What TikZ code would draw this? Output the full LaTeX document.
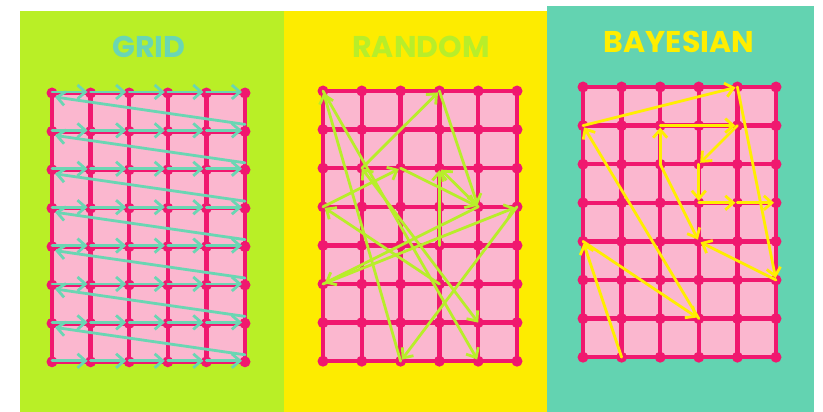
\documentclass[tikz,border=0pt]{standalone}
\usepackage{fontspec}
\setmainfont{Poppins}
\usetikzlibrary{arrows.meta}
\definecolor{limebg}{HTML}{B9EF26}
\definecolor{yellowbg}{HTML}{FDEC00}
\definecolor{tealbg}{HTML}{63D3B1}
\definecolor{cellpink}{HTML}{FBB7CF}
\definecolor{gridmag}{HTML}{F0186F}
\definecolor{tealarr}{HTML}{6AD6B3}
\definecolor{limearr}{HTML}{B8EE2A}
\definecolor{yellarr}{HTML}{FFEE00}
\tikzset{
  gridline/.style={draw=gridmag, line width=4.5pt},
  arr/.style={line width=2.8pt, -{Straight Barb[length=8pt,width=14pt]}, shorten >=2pt, line cap=round},
  twoarr/.style={line width=2.8pt, {Straight Barb[length=8pt,width=14pt]}-{Straight Barb[length=8pt,width=14pt]}, line cap=round},
  title/.style={font=\fontsize{30}{30}\selectfont\bfseries, inner sep=0pt}
}
\newcommand\mkgrid[5]{%
  \foreach \i in {0,...,5}{\foreach \j in {0,...,7}{%
    \coordinate (#1-\i-\j) at ({#2+\i*#4},{#3+\j*#5});}}%
  \fill[cellpink] (#1-0-0) rectangle (#1-5-7);
  \foreach \i in {0,...,5}{\draw[gridline] (#1-\i-0) -- (#1-\i-7);}
  \foreach \j in {0,...,7}{\draw[gridline] (#1-0-\j) -- (#1-5-\j);}
  \foreach \i in {0,...,5}{\foreach \j in {0,...,7}{%
    \fill[gridmag] (#1-\i-\j) circle[radius=5.5pt];}}%
}
\begin{document}
\begin{tikzpicture}[x=1pt,y=-1pt]
\useasboundingbox (0,0) rectangle (823,412);
\fill[white] (0,0) rectangle (823,412);
% panels
\fill[limebg] (20,11) rectangle (284,412);
\fill[yellowbg] (284,11) rectangle (548,412);
\fill[tealbg] (547,6) rectangle (814,412);
% titles
\node[title, text=tealarr] (t1) at (149,47) {GRID};
\node[title, text=limearr] (t2) at (421,47) {RANDOM};
\node[title, text=yellarr] (t3) at (679,42) {BAYESIAN};
% grids
\mkgrid{g}{52}{93}{38.6}{38.4}
\mkgrid{r}{323}{91}{38.8}{38.6}
\mkgrid{b}{583}{87}{38.6}{38.6}
% GRID arrows
\foreach \j in {0,...,7}{%
  \foreach \i [evaluate=\i as \n using int(\i+1)] in {0,...,4}{%
    \draw[arr, draw=tealarr, shorten >=3pt] ([yshift=1pt]g-\i-\j) -- ([yshift=1pt]g-\n-\j);}}
\foreach \j [evaluate=\j as \k using int(\j+1)] in {0,...,6}{%
  \draw[arr, draw=tealarr, shorten >=0pt] ([yshift=7pt]g-5-\k) -- ([xshift=3pt,yshift=-4pt]g-0-\j);}
% RANDOM arrows
\begin{scope}[every path/.style={draw=limearr}]
\draw[arr] (r-1-2) -- (r-3-0);
\draw[arr] (r-3-0) -- (r-4-3);
\draw[arr] (r-0-3) -- (r-2-2);
\draw[arr] (r-2-2) -- (r-4-3);
\draw[arr] (r-4-3) -- (r-3-2);
\draw[arr] (r-3-4) -- (r-3-2);
\draw[arr] (r-4-3) -- (r-0-5);
\draw[arr] (r-0-5) -- (r-5-3);
\draw[arr] (r-5-3) -- (r-2-7);
\draw[arr] (r-2-7) -- (r-0-0);
\draw[arr] (r-0-0) -- (r-4-7);
\draw[twoarr] (r-1-2) -- (r-4-6);
\draw[arr] (r-3-5) -- (r-0-3);
\end{scope}
% BAYESIAN arrows
\begin{scope}[every path/.style={draw=yellarr}]
\draw[arr] (b-1-7) -- (b-0-4);
\draw[arr] (b-0-4) -- (b-3-6);
\draw[arr] (b-3-6) -- (b-0-1);
\draw[arr] (b-0-1) -- (b-4-0);
\draw[arr] (b-4-0) -- (b-5-5);
\draw[arr] (b-5-5) -- (b-3-4);
\draw[arr] (b-2-2) -- (b-3-4);
\draw[arr] (b-2-2) -- (b-2-1);
\draw[arr] (b-2-1) -- (b-4-1);
\draw[arr] (b-4-1) -- (b-3-2);
\draw[arr] (b-3-2) -- (b-3-3);
\draw[arr] (b-3-3) -- (b-4-3);
\draw[arr] (b-4-3) -- (b-5-3);
\end{scope}
\end{tikzpicture}
\end{document}
